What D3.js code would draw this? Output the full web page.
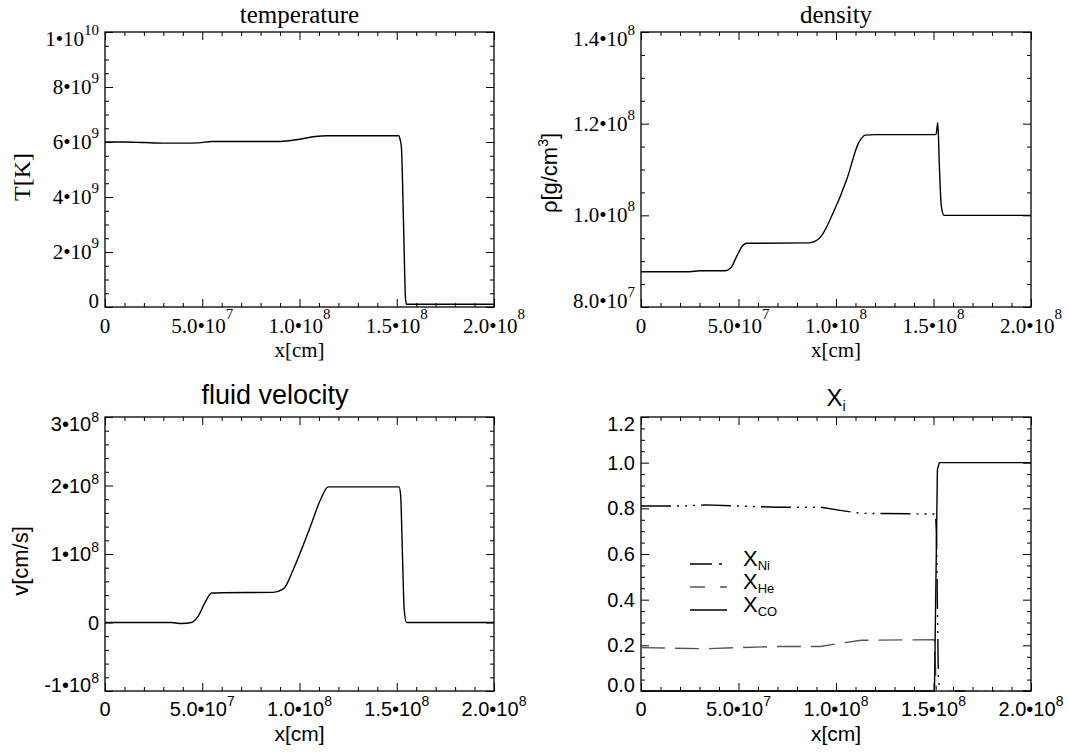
<!DOCTYPE html>
<html><head><meta charset="utf-8">
<script src="https://cdn.jsdelivr.net/npm/d3@7"></script>
<style>body{margin:0;background:#fff}svg{display:block}</style>
</head><body>
<svg id="chart" width="1068" height="753"></svg>
<script>
// ---------- data ----------
const xTicks = [0, 5e7, 1e8, 1.5e8, 2e8];
const xTickLabels = ["0", "5.0•10^7", "1.0•10^8", "1.5•10^8", "2.0•10^8"];

const tempTicks = [0, 2e9, 4e9, 6e9, 8e9, 1e10];
const tempTickLabels = ["0", "2•10^9", "4•10^9", "6•10^9", "8•10^9", "1•10^10"];
const tempX = [0, 1e7, 2e7, 3e7, 4e7, 4.8e7, 5.5e7, 7e7, 9e7, 1.0e8, 1.08e8, 1.14e8, 1.3e8, 1.51e8, 1.517e8, 1.524e8, 1.535e8, 1.545e8, 1.55e8, 1.6e8, 2e8];
const tempY = [6.0e9, 6.0e9, 5.98e9, 5.96e9, 5.96e9, 5.97e9, 6.02e9, 6.02e9, 6.02e9, 6.1e9, 6.2e9, 6.23e9, 6.23e9, 6.23e9, 6.1e9, 5.8e9, 3.0e9, 0.3e9, 0.1e9, 0.1e9, 0.1e9];

const densTicks = [8e7, 1e8, 1.2e8, 1.4e8];
const densTickLabels = ["8.0•10^7", "1.0•10^8", "1.2•10^8", "1.4•10^8"];
const densX = [0, 2.5e7, 3.0e7, 4.3e7, 4.6e7, 4.9e7, 5.2e7, 5.4e7, 6e7, 8.6e7, 9.15e7, 9.85e7, 1.055e8, 1.116e8, 1.151e8, 1.2e8, 1.51e8, 1.515e8, 1.522e8, 1.53e8, 1.54e8, 1.554e8, 1.6e8, 2e8];
const densY = [8.77e7, 8.77e7, 8.79e7, 8.79e7, 8.85e7, 9.1e7, 9.33e7, 9.39e7, 9.39e7, 9.4e7, 9.5e7, 1.005e8, 1.078e8, 1.158e8, 1.175e8, 1.176e8, 1.176e8, 1.18e8, 1.202e8, 1.11e8, 1.02e8, 1.0e8, 1.0e8, 1.0e8];

const velTicks = [-1e8, 0, 1e8, 2e8, 3e8];
const velTickLabels = ["-1•10^8", "0", "1•10^8", "2•10^8", "3•10^8"];
const velX = [0, 3.4e7, 3.92e7, 4.44e7, 4.8e7, 5.14e7, 5.49e7, 6e7, 8.64e7, 9.17e7, 9.69e7, 1.004e8, 1.057e8, 1.109e8, 1.148e8, 1.2e8, 1.512e8, 1.52e8, 1.53e8, 1.538e8, 1.55e8, 1.6e8, 2e8];
const velY = [0, 0, -1.5e6, 0, 9.8e6, 2.9e7, 4.3e7, 4.35e7, 4.4e7, 4.9e7, 7.8e7, 1.02e8, 1.41e8, 1.8e8, 1.98e8, 1.98e8, 1.98e8, 1.85e8, 0.93e8, 2.0e7, 0, 0, 0];

const xiTicks = [0, 0.2, 0.4, 0.6, 0.8, 1.0, 1.2];
const xiTickLabels = ["0.0", "0.2", "0.4", "0.6", "0.8", "1.0", "1.2"];
const niX = [0, 2e7, 3.3e7, 5e7, 7e7, 9.2e7, 1.03e8, 1.13e8, 1.51e8, 1.515e8, 1.525e8, 1.535e8, 2e8];
const niY = [0.81, 0.81, 0.815, 0.81, 0.805, 0.805, 0.79, 0.778, 0.775, 0.7, 0.05, 0, 0];
const heX = [0, 3.3e7, 5e7, 7e7, 9.2e7, 1.03e8, 1.13e8, 1.505e8, 1.51e8, 1.515e8, 2e8];
const heY = [0.19, 0.185, 0.19, 0.195, 0.195, 0.21, 0.222, 0.225, 0.1, 0, 0];
const coX = [0, 1.505e8, 1.52e8, 1.53e8, 2e8];
const coY = [0, 0, 0.97, 1.0, 1.0];
const legendNames = ["Ni", "He", "CO"];

// ---------- drawing ----------
const svg = d3.select("#chart");
const SERIF = "'Liberation Serif','Times New Roman',serif";
const SANS = "'Liberation Sans',Arial,Helvetica,sans-serif";

function sci(sel, str, supSize, supShift) {
  const p = str.split("^");
  sel.append("tspan").text(p[0]);
  if (p[1]) sel.append("tspan").attr("font-size", supSize).attr("dy", -supShift).text(p[1]);
}

function panel(cfg) {
  const g = svg.append("g");
  const x = d3.scaleLinear().domain([0, 2e8]).range([cfg.x0, cfg.x1]);
  const y = d3.scaleLinear().domain(cfg.yDomain).range([cfg.y1, cfg.y0]);
  const xMinor = d3.range(0, 2e8 + 1, 1e7).filter(v => !xTicks.includes(v));
  const yMinor = d3.range(cfg.yDomain[0], cfg.yDomain[1] + cfg.yStep / 2, cfg.yStep)
    .filter(v => !cfg.yTicks.some(t => Math.abs(t - v) < cfg.yStep / 10));

  const axes = [
    [d3.axisBottom, x, `translate(0,${cfg.y1})`, xTicks, xMinor],
    [d3.axisTop, x, `translate(0,${cfg.y0})`, xTicks, xMinor],
    [d3.axisLeft, y, `translate(${cfg.x0},0)`, cfg.yTicks, yMinor],
    [d3.axisRight, y, `translate(${cfg.x1},0)`, cfg.yTicks, yMinor]
  ];
  axes.forEach(([fn, sc, tr, maj, min]) => {
    [[maj, 8], [min, 4]].forEach(([vals, len]) => {
      const a = g.append("g").attr("transform", tr)
        .call(fn(sc).tickValues(vals).tickSize(-len).tickFormat(""));
      a.select(".domain").remove();
      a.selectAll("line").attr("stroke", "#000").attr("stroke-width", 1);
    });
  });
  g.append("rect").attr("x", cfg.x0).attr("y", cfg.y0)
    .attr("width", cfg.x1 - cfg.x0).attr("height", cfg.y1 - cfg.y0)
    .attr("fill", "none").attr("stroke", "#000").attr("stroke-width", 1.3);

  // x tick labels
  xTicks.forEach((v, i) => {
    const t = g.append("text").attr("x", x(v)).attr("y", cfg.xLabY)
      .attr("text-anchor", "middle").attr("font-family", cfg.font)
      .attr("font-size", cfg.tickSize).attr("fill", "#000");
    sci(t, xTickLabels[i], cfg.supSize, cfg.supShiftX);
  });
  // y tick labels
  cfg.yTicks.forEach((v, i) => {
    const n = cfg.yTicks.length;
    const off = i === 0 ? 1 : (i === n - 1 ? 14 : 7);
    const t = g.append("text").attr("x", cfg.x0 - 6).attr("y", y(v) + off)
      .attr("text-anchor", "end").attr("font-family", cfg.font)
      .attr("font-size", cfg.tickSize).attr("fill", "#000");
    sci(t, cfg.yLabels[i], cfg.supSize, cfg.supShiftY);
  });
  // titles
  const tt = g.append("text").attr("x", cfg.titleX || (cfg.x0 + cfg.x1) / 2).attr("y", cfg.titleY)
    .attr("text-anchor", "middle").attr("font-family", cfg.font)
    .attr("font-size", cfg.titleSize).attr("fill", "#000");
  if (cfg.titleSub) {
    tt.append("tspan").text(cfg.title);
    tt.append("tspan").attr("font-size", 14).attr("dy", 5).text(cfg.titleSub);
  } else tt.text(cfg.title);

  g.append("text").attr("x", (cfg.x0 + cfg.x1) / 2).attr("y", cfg.xTitleY)
    .attr("text-anchor", "middle").attr("font-family", cfg.font)
    .attr("font-size", cfg.axisTitleSize).attr("fill", "#000").text("x[cm]");

  if (cfg.yTitle) {
    const yt = g.append("text")
      .attr("transform", `translate(${cfg.yTitleX},${cfg.yTitleY}) rotate(-90)`)
      .attr("text-anchor", "middle").attr("font-family", cfg.yTitleFont || cfg.font)
      .attr("font-size", cfg.yTitleSize).attr("fill", "#000");
    sci(yt, cfg.yTitle, 14, 9);
    if (cfg.yTitleTail) yt.append("tspan").attr("dy", 9).text(cfg.yTitleTail);
  }
  return {g, x, y};
}

function drawLine(p, xs, ys, opts) {
  const pts = xs.map((v, i) => [v, ys[i]]);
  p.g.append("path").datum(pts)
    .attr("d", d3.line().x(d => p.x(d[0])).y(d => p.y(d[1])).curve(opts.curve || d3.curveLinear))
    .attr("fill", "none").attr("stroke", opts.color || "#000")
    .attr("stroke-width", opts.width || 1.4)
    .attr("stroke-dasharray", opts.dash || null);
}

// Panel 1: temperature
const p1 = panel({x0: 105, x1: 494, y0: 32, y1: 307, yDomain: [0, 1e10], yStep: 5e8,
  yTicks: tempTicks, yLabels: tempTickLabels, font: SERIF, tickSize: 21, supSize: 15,
  supShiftX: 14, supShiftY: 11, xLabY: 333, xTitleY: 357, axisTitleSize: 21,
  title: "temperature", titleY: 23, titleSize: 25,
  yTitle: "T[K]", yTitleX: 30, yTitleY: 177, yTitleSize: 24});
drawLine(p1, tempX, tempY, {curve: d3.curveMonotoneX});

// Panel 2: density
const p2 = panel({x0: 641, x1: 1031, y0: 32, y1: 307, yDomain: [8e7, 1.4e8], yStep: 5e6,
  yTicks: densTicks, yLabels: densTickLabels, font: SERIF, tickSize: 21, supSize: 15,
  supShiftX: 14, supShiftY: 11, xLabY: 333, xTitleY: 357, axisTitleSize: 21,
  title: "density", titleY: 23, titleSize: 25,
  yTitle: "ρ[g/cm^3", yTitleTail: "]", yTitleFont: SANS, yTitleX: 557, yTitleY: 173, yTitleSize: 22});
drawLine(p2, densX, densY, {curve: d3.curveMonotoneX});

// Panel 3: fluid velocity
const p3 = panel({x0: 105, x1: 494, y0: 417, y1: 691, yDomain: [-1e8, 3e8], yStep: 2e7,
  yTicks: velTicks, yLabels: velTickLabels, font: SANS, tickSize: 20, supSize: 14,
  supShiftX: 10, supShiftY: 9, xLabY: 716, xTitleY: 741, axisTitleSize: 21,
  title: "fluid velocity", titleX: 275, titleY: 404, titleSize: 27,
  yTitle: "v[cm/s]", yTitleX: 28, yTitleY: 561, yTitleSize: 22});
drawLine(p3, velX, velY, {curve: d3.curveMonotoneX});

// Panel 4: mass fractions
const p4 = panel({x0: 641, x1: 1031, y0: 417, y1: 691, yDomain: [0, 1.2], yStep: 0.05,
  yTicks: xiTicks, yLabels: xiTickLabels, font: SANS, tickSize: 20, supSize: 14,
  supShiftX: 10, supShiftY: 9, xLabY: 716, xTitleY: 741, axisTitleSize: 21,
  title: "X", titleSub: "i", titleY: 406, titleSize: 24});
const styles = [
  {dash: "30,6,2,6,2,6,2,6", color: "#000", legDash: "22,7,3,30"},
  {dash: "24,10", color: "#555", legDash: "15,15"},
  {dash: null, color: "#000", legDash: null}
];
drawLine(p4, niX, niY, styles[0]);
drawLine(p4, heX, heY, styles[1]);
drawLine(p4, coX, coY, styles[2]);

// legend
legendNames.forEach((name, i) => {
  const ly = 564 + i * 23;
  p4.g.append("line").attr("x1", 690).attr("x2", 727).attr("y1", ly).attr("y2", ly)
    .attr("stroke", styles[i].color).attr("stroke-width", 1.3)
    .attr("stroke-dasharray", styles[i].legDash);
  const t = p4.g.append("text").attr("x", 743).attr("y", ly + 2)
    .attr("font-family", SANS).attr("font-size", 22).attr("fill", "#000");
  t.append("tspan").text("X");
  t.append("tspan").attr("font-size", 13).attr("dy", 4).text(name);
});
</script>
</body></html>
